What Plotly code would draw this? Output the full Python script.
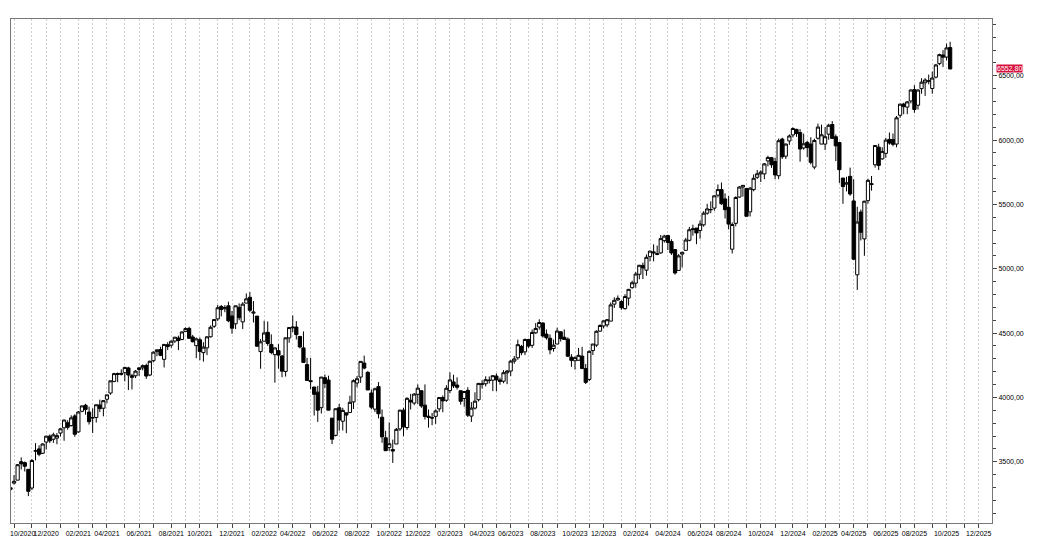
import pandas as pd
import plotly.graph_objs as go

# weekly S&P 500 candles, week ending Friday 2020-09-25 ... 2025-10-10
open_ = [
    3285, 3334, 3357, 3500, 3493, 3441, 3296, 3583, 3600, 3566, 3653, 3699, 3675, 3684, 3723,
    3764, 3803, 3781, 3856, 3732, 3892, 3939, 3886, 3842, 3844, 3941, 3916, 3986, 4034, 4124, 4185,
    4186, 4192, 4229, 4169, 4168, 4217, 4230, 4248, 4174, 4285, 4356, 4372, 4296, 4409, 4406, 4438,
    4462, 4450, 4513, 4536, 4470, 4402, 4448, 4348, 4385, 4471, 4553, 4610, 4707, 4689, 4712, 4633,
    4572, 4698, 4587, 4733,
    4778, 4655, 4632, 4356, 4437, 4506, 4412, 4332, 4363, 4322, 4202, 4462, 4541, 4547, 4474, 4385,
    4255, 4130, 4081, 4041, 3920, 4153, 4135, 3839, 3705, 3920, 3815, 3880, 3883, 3965, 4112, 4158,
    4267, 4195, 4034, 3909, 4084, 3846, 3686, 3610, 3595, 3638, 3755, 3901, 3766, 3978, 3956, 4024,
    4052, 3940, 3854, 3843,
    3853, 3911, 3999, 3978, 4053, 4120, 4096, 4052, 3992, 4055, 3855, 3917, 3982, 4102, 4106, 4131,
    4134, 4166, 4136, 4126, 4191, 4205, 4282, 4308, 4396, 4354, 4450, 4405, 4502, 4547, 4578, 4492,
    4460, 4380, 4415, 4510, 4468, 4453, 4313, 4285, 4289, 4321, 4224, 4140, 4364, 4407, 4515, 4555,
    4564, 4593, 4725, 4758,
    4745, 4690, 4772, 4853, 4888, 4957, 5026, 4989, 5094, 5131, 5111, 5123, 5219, 5258, 5211, 5149,
    4987, 5114, 5143, 5221, 5311, 5316, 5297, 5341, 5432, 5459, 5471, 5572, 5615, 5543, 5477, 5152,
    5353, 5557, 5635, 5624, 5442, 5615, 5711, 5737, 5737, 5838, 5863, 5833, 5723, 6008, 5875, 5993,
    6040, 6083, 6058, 5939,
    5982, 5969, 5790, 6014, 5969, 5969, 6046, 6121, 6026, 5981, 5705, 5658, 5718, 5527, 4953, 5441,
    5232, 5529, 5655, 5808, 5945, 5854, 5897, 6005, 6004, 5969, 6193, 6280, 6256, 6304, 6392, 6271,
    6400, 6445, 6457, 6401, 6489, 6594, 6661, 6645, 6719,
]
high = [
    3320, 3397, 3482, 3534, 3502, 3441, 3521, 3645, 3628, 3644, 3699, 3712, 3726, 3723, 3760,
    3827, 3823, 3861, 3870, 3894, 3937, 3950, 3928, 3915, 3944, 3983, 3978, 4020, 4129, 4191, 4194,
    4218, 4238, 4238, 4183, 4213, 4234, 4256, 4262, 4286, 4356, 4372, 4394, 4415, 4429, 4441, 4469,
    4480, 4513, 4545, 4549, 4486, 4465, 4466, 4429, 4475, 4559, 4608, 4718, 4718, 4717, 4744, 4672,
    4713, 4731, 4740, 4808,
    4819, 4749, 4632, 4453, 4595, 4590, 4490, 4385, 4416, 4329, 4465, 4546, 4637, 4593, 4471, 4513,
    4308, 4307, 4081, 4090, 4158, 4178, 4169, 3839, 3913, 3950, 3919, 3880, 4013, 4140, 4167, 4280,
    4325, 4204, 4062, 4076, 4119, 3906, 3740, 3806, 3672, 3763, 3905, 3919, 4001, 4028, 4034, 4101,
    4052, 4101, 3906, 3879,
    3907, 4003, 4015, 4095, 4195, 4176, 4156, 4052, 4048, 4079, 3964, 4040, 4110, 4133, 4164, 4163,
    4170, 4187, 4154, 4212, 4213, 4291, 4322, 4449, 4408, 4458, 4456, 4528, 4578, 4607, 4585, 4528,
    4490, 4450, 4542, 4514, 4528, 4466, 4336, 4319, 4385, 4393, 4259, 4366, 4415, 4521, 4568, 4598,
    4609, 4738, 4778, 4793,
    4755, 4802, 4842, 4907, 4975, 5030, 5048, 5111, 5140, 5190, 5180, 5262, 5264, 5264, 5229, 5151,
    5114, 5123, 5240, 5325, 5342, 5316, 5375, 5447, 5505, 5524, 5570, 5655, 5670, 5586, 5566, 5360,
    5563, 5643, 5651, 5626, 5636, 5733, 5767, 5765, 5822, 5878, 5869, 5863, 6012, 6018, 5973, 6044,
    6099, 6088, 6085, 6050,
    5993, 6022, 6011, 6128, 6120, 6101, 6127, 6147, 6044, 5987, 5705, 5715, 5786, 5695, 5482, 5460,
    5528, 5700, 5721, 5959, 5972, 5944, 6017, 6059, 6051, 6188, 6284, 6290, 6303, 6395, 6427, 6395,
    6481, 6481, 6509, 6532, 6592, 6671, 6699, 6750, 6764,
]
low = [
    3209, 3323, 3357, 3440, 3424, 3233, 3280, 3511, 3543, 3560, 3595, 3645, 3647, 3636, 3696,
    3663, 3749, 3774, 3694, 3725, 3885, 3866, 3789, 3723, 3805, 3886, 3853, 3955, 4020, 4118, 4118,
    4170, 4125, 4057, 4062, 4150, 4167, 4210, 4144, 4165, 4273, 4320, 4321, 4233, 4368, 4386, 4424,
    4368, 4445, 4513, 4458, 4427, 4305, 4289, 4278, 4329, 4465, 4540, 4595, 4630, 4662, 4585, 4495,
    4531, 4600, 4531, 4733,
    4663, 4582, 4395, 4223, 4435, 4401, 4335, 4115, 4223, 4157, 4162, 4425, 4507, 4450, 4381, 4268,
    4129, 4063, 3859, 3810, 3875, 4074, 3900, 3637, 3697, 3741, 3743, 3722, 3882, 3910, 4079, 4113,
    4218, 4057, 3907, 3886, 3837, 3647, 3584, 3584, 3491, 3638, 3740, 3698, 3748, 3906, 3940, 3948,
    3919, 3828, 3765, 3784,
    3794, 3888, 3885, 3966, 4032, 4073, 4061, 3944, 3928, 3847, 3809, 3906, 3969, 4069, 4086, 4108,
    4049, 4048, 4099, 4110, 4103, 4166, 4262, 4293, 4328, 4329, 4385, 4385, 4494, 4527, 4464, 4449,
    4335, 4356, 4415, 4434, 4446, 4313, 4238, 4216, 4286, 4224, 4104, 4127, 4329, 4393, 4510, 4537,
    4546, 4593, 4695, 4751,
    4682, 4682, 4714, 4845, 4853, 4918, 4920, 4946, 5057, 5057, 5105, 5117, 5203, 5146, 5108, 4954,
    4987, 5011, 5142, 5213, 5257, 5191, 5234, 5327, 5420, 5432, 5451, 5555, 5497, 5391, 5306, 5119,
    5330, 5552, 5560, 5403, 5406, 5602, 5698, 5674, 5696, 5796, 5784, 5697, 5696, 5854, 5853, 5963,
    6020, 6025, 5832, 5925,
    5867, 5811, 5773, 6004, 5969, 5923, 6003, 6008, 5837, 5667, 5505, 5601, 5567, 5069, 4835, 5220,
    5101, 5506, 5607, 5786, 5767, 5847, 5862, 5964, 5952, 5944, 6173, 6201, 6201, 6285, 6212, 6237,
    6360, 6343, 6433, 6360, 6480, 6582, 6569, 6619, 6550,
]
close = [
    3298, 3348, 3477, 3484, 3465, 3270, 3510, 3585, 3558, 3638, 3699, 3663, 3709, 3703, 3756,
    3824, 3768, 3841, 3714, 3887, 3934, 3907, 3811, 3842, 3943, 3913, 3975, 4020, 4129, 4185, 4180,
    4181, 4233, 4174, 4156, 4204, 4230, 4247, 4166, 4281, 4352, 4370, 4327, 4412, 4395, 4437, 4468,
    4442, 4509, 4535, 4459, 4433, 4455, 4357, 4391, 4471, 4545, 4605, 4697, 4683, 4698, 4595, 4538,
    4712, 4620, 4725, 4766,
    4677, 4663, 4398, 4432, 4501, 4419, 4349, 4385, 4329, 4204, 4463, 4543, 4546, 4488, 4392, 4272,
    4132, 4123, 4024, 3901, 4158, 4109, 3901, 3675, 3912, 3825, 3899, 3863, 3962, 4130, 4145, 4280,
    4228, 4058, 3924, 4067, 3873, 3693, 3586, 3640, 3583, 3752, 3901, 3771, 3993, 3965, 4026, 4072,
    3934, 3852, 3845, 3840,
    3895, 3999, 3973, 4071, 4136, 4090, 4079, 3970, 4046, 3862, 3917, 3971, 4109, 4105, 4138, 4133,
    4169, 4136, 4124, 4192, 4205, 4282, 4299, 4410, 4348, 4450, 4399, 4505, 4536, 4582, 4478, 4464,
    4370, 4406, 4516, 4457, 4450, 4320, 4288, 4309, 4327, 4224, 4117, 4358, 4415, 4514, 4559, 4595,
    4604, 4719, 4755, 4770,
    4697, 4784, 4840, 4891, 4959, 5027, 5006, 5089, 5137, 5124, 5117, 5234, 5254, 5204, 5123, 4967,
    5100, 5128, 5223, 5303, 5305, 5278, 5347, 5432, 5465, 5460, 5567, 5615, 5505, 5459, 5347, 5344,
    5554, 5635, 5648, 5408, 5626, 5703, 5738, 5751, 5815, 5865, 5808, 5729, 5995, 5870, 5969, 6032,
    6090, 6051, 5931, 5971,
    5942, 5827, 5997, 6101, 6041, 6026, 6115, 6013, 5955, 5770, 5639, 5667, 5581, 5074, 5363, 5283,
    5525, 5687, 5660, 5958, 5803, 5912, 6000, 5977, 5967, 6173, 6279, 6260, 6297, 6389, 6238, 6389,
    6450, 6467, 6460, 6482, 6584, 6664, 6644, 6716, 6552.8,
]

weeks = pd.date_range("2020-09-25", periods=len(close), freq="W-FRI")

# one tick per month on the first weekly candle, label every second month
tick_weeks = pd.Series(pd.date_range("2020-09-25", "2025-12-31", freq="W-FRI"))
month_first = tick_weeks.groupby(tick_weeks.dt.to_period("M")).first()
tick_vals = list(month_first)
tick_text = [d.strftime("%m/%Y") if d.month % 2 == 0 else "" for d in month_first]
# the first label sits on the left edge, drawn below as an annotation so it is not cut
first_label = tick_text[1]
tick_text[1] = ""

axis_font = dict(family="Liberation Sans, Arial, sans-serif", size=7, color="black")

fig = go.Figure(
    data=[go.Candlestick(
        x=weeks, open=open_, high=high, low=low, close=close,
        increasing=dict(line=dict(color="black", width=1), fillcolor="white"),
        decreasing=dict(line=dict(color="black", width=1), fillcolor="black"),
        whiskerwidth=0,
        showlegend=False,
    )],
    layout=go.Layout(
        template="none",
        width=1032, height=546,
        margin=dict(l=3, r=48, t=11, b=31),
        paper_bgcolor="white", plot_bgcolor="white",
        separators=",.",
        boxgap=0, boxgroupgap=0.1,
        font=axis_font,
        xaxis=dict(
            type="date", range=["2020-09-26", "2025-12-31"],
            rangeslider=dict(visible=False), automargin=False,
            tickmode="array", tickvals=tick_vals, ticktext=tick_text,
            tickfont=axis_font, ticks="outside", ticklen=4, tickcolor="#444",
            showgrid=True, gridcolor="#d0d0d0", griddash="2px,2px", gridwidth=1,
            showline=True, linecolor="#777", mirror=True, zeroline=False,
        ),
        yaxis=dict(
            side="right", range=[3024, 6941], automargin=False,
            tick0=0, dtick=500, tickformat=".2f", tickfont=axis_font,
            ticks="outside", ticklen=4, tickcolor="#444",
            minor=dict(dtick=100, ticks="outside", ticklen=3, tickcolor="#444", showgrid=False),
            showgrid=False, showline=True, linecolor="#777", mirror=True, zeroline=False,
        ),
    ),
)

fig.add_annotation(
    x=0, xref="paper", y=0, yref="paper",
    text=first_label, showarrow=False,
    xanchor="left", yanchor="top", xshift=-3, yshift=-5,
    font=axis_font,
)

fig.add_annotation(
    x=1, xref="paper", y=close[-1], yref="y",
    text=f"{close[-1]:.2f}".replace(".", ","),
    showarrow=False, xanchor="left", yanchor="middle", xshift=4,
    bgcolor="#d8103c", borderpad=0,
    font=dict(family="Liberation Sans, Arial, sans-serif", color="white", size=7),
)

fig.write_html("out.html")
